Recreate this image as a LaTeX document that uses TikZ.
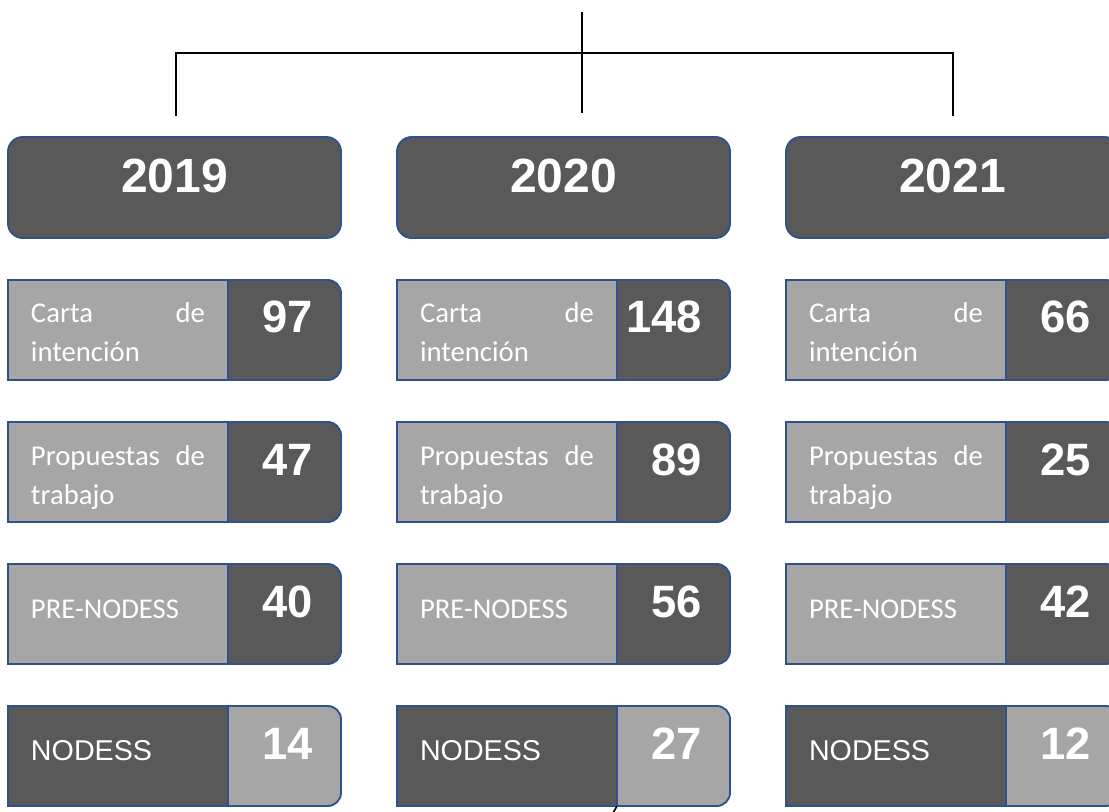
\documentclass[tikz,border=0pt]{standalone}
\usepackage{fontspec}
\setmainfont{Carlito}
\newfontfamily\arialfont{Liberation Sans}
\usepackage{xcolor}
\usetikzlibrary{positioning}
\definecolor{boxdark}{HTML}{595959}
\definecolor{boxlight}{HTML}{A6A6A6}
\definecolor{edgeblue}{HTML}{2F528F}
\tikzset{
    conn/.style={line width=1.2pt, black},
    yearbox/.style={draw=edgeblue, line width=1.4pt, fill=boxdark, rounded corners=11pt,
        minimum width=249.75pt, inner xsep=0pt, inner ysep=0pt, outer sep=0pt,
        text height=42pt, text depth=33.75pt, text=white,
        font=\arialfont\bfseries\fontsize{36}{36}\selectfont},
    rowbox/.style={draw=edgeblue, line width=1.4pt, fill=boxdark, rounded corners=10pt,
        minimum width=249.75pt, inner xsep=21pt, inner ysep=0pt, outer sep=0pt,
        text width=207.75pt, align=right, text height=39.75pt, text depth=35.25pt, text=white,
        font=\arialfont\bfseries\fontsize{34}{34}\selectfont},
    lblbox/.style={draw=edgeblue, line width=1.4pt, fill=boxlight, minimum width=165pt,
        inner xsep=17.25pt, inner ysep=0pt, outer sep=0pt, text width=130.5pt, align=left,
        text=white, font=\fontsize{21.5}{29.25}\selectfont},
    twolines/.style={text height=32.25pt, text depth=42.75pt},
    oneline/.style={text height=40.5pt, text depth=34.5pt},
    inverted/.style={fill=boxlight},
    invlbl/.style={fill=boxdark, font=\arialfont\fontsize{21.5}{29.25}\selectfont},
}
\begin{document}
\begin{tikzpicture}[x=0.75pt, y=-0.75pt]
    \useasboundingbox (0,0) rectangle (1109,812);
    % 2019
    \node[yearbox] (y19) at (174.5,187.5) {2019};
    \node[rowbox, below=31.5pt of y19] (c19) {97};
    \node[lblbox, twolines, anchor=west] (c19l) at (c19.west) {Carta\hfill de\\intención};
    \node[rowbox, below=31.5pt of c19] (p19) {47};
    \node[lblbox, twolines, anchor=west] (p19l) at (p19.west) {Propuestas\hfill de\\trabajo};
    \node[rowbox, below=31.5pt of p19] (r19) {40};
    \node[lblbox, oneline, anchor=west] (r19l) at (r19.west) {PRE-NODESS};
    \node[rowbox, inverted, below=31.5pt of r19] (n19) {14};
    \node[lblbox, oneline, invlbl, anchor=west] (n19l) at (n19.west) {NODESS};

    % 2020
    \node[yearbox] (y20) at (563.5,187.5) {2020};
    \node[rowbox, below=31.5pt of y20] (c20) {148};
    \node[lblbox, twolines, anchor=west] (c20l) at (c20.west) {Carta\hfill de\\intención};
    \node[rowbox, below=31.5pt of c20] (p20) {89};
    \node[lblbox, twolines, anchor=west] (p20l) at (p20.west) {Propuestas\hfill de\\trabajo};
    \node[rowbox, below=31.5pt of p20] (r20) {56};
    \node[lblbox, oneline, anchor=west] (r20l) at (r20.west) {PRE-NODESS};
    \node[rowbox, inverted, below=31.5pt of r20] (n20) {27};
    \node[lblbox, oneline, invlbl, anchor=west] (n20l) at (n20.west) {NODESS};

    % 2021
    \node[yearbox] (y21) at (952.5,187.5) {2021};
    \node[rowbox, below=31.5pt of y21] (c21) {66};
    \node[lblbox, twolines, anchor=west] (c21l) at (c21.west) {Carta\hfill de\\intención};
    \node[rowbox, below=31.5pt of c21] (p21) {25};
    \node[lblbox, twolines, anchor=west] (p21l) at (p21.west) {Propuestas\hfill de\\trabajo};
    \node[rowbox, below=31.5pt of p21] (r21) {42};
    \node[lblbox, oneline, anchor=west] (r21l) at (r21.west) {PRE-NODESS};
    \node[rowbox, inverted, below=31.5pt of r21] (n21) {12};
    \node[lblbox, oneline, invlbl, anchor=west] (n21l) at (n21.west) {NODESS};

    % Connectors
    \coordinate (root) at (582,12);
    \coordinate (stem) at (582,113);
    \coordinate (hub) at (582,53);
    \coordinate (l19) at (176,116);
    \coordinate (l21) at (953,116);
    \draw[conn] (root) -- (stem);
    \draw[conn] (l19) |- (hub) -| (l21);
    % stray mark
    \coordinate (tka) at (613,813);
    \coordinate (tkb) at (617,806);
    \draw[conn] (tka) -- (tkb);
\end{tikzpicture}
\end{document}
